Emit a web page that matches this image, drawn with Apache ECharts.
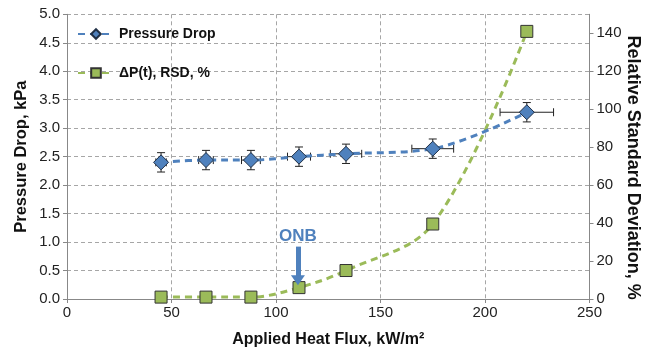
<!DOCTYPE html>
<html>
<head>
<meta charset="utf-8">
<script src="https://cdn.jsdelivr.net/npm/echarts@6/dist/echarts.min.js"></script>
<style>
html,body{margin:0;padding:0;background:#fff;}
#chart{width:655px;height:352px;}
</style>
</head>
<body>
<div id="chart"></div>
<script>
// Data
const heatFlux = [45, 66.5, 88, 111, 133.5, 175, 220];
const pressureDrop = [2.40, 2.44, 2.44, 2.50, 2.55, 2.64, 3.28];
const pressureErrY = [0.17, 0.17, 0.17, 0.17, 0.17, 0.17, 0.17];
const heatFluxErrX = [2.5, 3.5, 4.5, 5.5, 7.5, 10, 12.8];
const rsdValues = [1, 1, 1, 6, 15, 39.5, 141];
const leftTicks = [0, 0.5, 1, 1.5, 2, 2.5, 3, 3.5, 4, 4.5, 5];
const onbX = 110.5;
const onbArrow = [0.92, 0.33];

const blue = '#4F81BD';
const green = '#9BBB59';
const tickFont = {fontFamily: '"Liberation Sans Narrow", "Liberation Sans", Arial, sans-serif', fontSize: 15, color: '#222'};
const titleFont = {fontFamily: '"Liberation Sans", Arial, sans-serif', fontWeight: 'bold', color: '#111'};

const chart = echarts.init(document.getElementById('chart'), null, {renderer: 'canvas'});

const errData = heatFlux.map((x, i) => [x, pressureDrop[i], pressureErrY[i], heatFluxErrX[i]]);

const option = {
  backgroundColor: '#fff',
  animation: false,
  grid: {left: 67, right: 65.5, top: 14.3, bottom: 53, containLabel: false, outerBoundsMode: 'none'},
  legend: {
    left: 77, top: 27, orient: 'vertical', itemGap: 25, padding: 0,
    itemWidth: 36, itemHeight: 12,
    textStyle: {fontFamily: '"Liberation Sans", Arial, sans-serif', fontSize: 14, fontWeight: 'bold', color: '#111'},
    data: ['Pressure Drop', 'ΔP(t), RSD, %']
  },
  xAxis: {
    type: 'value', min: 0, max: 250, interval: 50,
    name: 'Applied Heat Flux, kW/m²', nameLocation: 'middle', nameGap: 33, nameMoveOverlap: false,
    nameTextStyle: Object.assign({fontSize: 16}, titleFont),
    axisLine: {show: true, lineStyle: {color: '#888'}},
    axisTick: {show: true, length: 4, lineStyle: {color: '#888'}},
    axisLabel: Object.assign({margin: 6}, tickFont),
    splitLine: {show: true, lineStyle: {color: '#a6a6a6', type: [4, 3]}}
  },
  yAxis: [{
    type: 'value', min: 0, max: 5, interval: 0.5,
    name: 'Pressure Drop, kPa', nameLocation: 'middle', nameGap: 37, nameMoveOverlap: false,
    nameTextStyle: Object.assign({fontSize: 16.5}, titleFont),
    axisLine: {show: true, lineStyle: {color: '#888'}},
    axisTick: {show: true, length: 4, lineStyle: {color: '#888'}},
    axisLabel: Object.assign({margin: 7, formatter: v => leftTicks.indexOf(v) >= 0 ? v.toFixed(1) : ''}, tickFont),
    splitLine: {show: true, lineStyle: {color: '#a6a6a6', type: [4, 3]}}
  }, {
    type: 'value', min: 0, max: 150, interval: 20, position: 'right',
    name: 'Relative Standard Deviation, %', nameLocation: 'middle', nameGap: 34, nameRotate: -90, nameMoveOverlap: false,
    nameTextStyle: Object.assign({fontSize: 18, padding: [0, 0, 0, 22]}, titleFont),
    axisLine: {show: true, lineStyle: {color: '#888'}},
    axisTick: {show: true, length: 4, lineStyle: {color: '#888'}},
    axisLabel: Object.assign({margin: 7, showMaxLabel: false, formatter: v => (v % 20 === 0 ? String(v) : '')}, tickFont),
    splitLine: {show: false}
  }],
  series: [{
    name: 'ΔP(t), RSD, %', type: 'line', yAxisIndex: 1,
    data: heatFlux.map((x, i) => [x, rsdValues[i]]),
    smooth: 0.35,
    symbol: 'rect', symbolSize: 12,
    lineStyle: {color: green, width: 3, type: [7, 5]},
    itemStyle: {color: green, borderColor: '#333', borderWidth: 1},
    z: 2
  }, {
    name: 'Pressure Drop', type: 'line', yAxisIndex: 0,
    data: heatFlux.map((x, i) => [x, pressureDrop[i]]),
    smooth: 0.35,
    symbol: 'diamond', symbolSize: 15,
    lineStyle: {color: blue, width: 3, type: [7, 5]},
    itemStyle: {color: blue, borderColor: '#1f2f45', borderWidth: 1},
    z: 4,
    markLine: {
      silent: true,
      symbol: ['none', 'triangle'],
      symbolSize: [14, 10],
      lineStyle: {color: blue, width: 5, type: 'solid'},
      label: {show: true, position: 'start', formatter: 'ONB', color: blue, fontFamily: '"Liberation Sans", Arial, sans-serif', fontSize: 17, fontWeight: 'bold', distance: 2},
      data: [[{coord: [onbX, onbArrow[0]]}, {coord: [onbX, onbArrow[1]]}]]
    }
  }, {
    type: 'custom', yAxisIndex: 0, z: 3,
    data: errData,
    renderItem: function (params, api) {
      const x = api.value(0), y = api.value(1), ey = api.value(2), ex = api.value(3);
      const top = api.coord([x, y + ey]);
      const bot = api.coord([x, y - ey]);
      const lft = api.coord([x - ex, y]);
      const rgt = api.coord([x + ex, y]);
      const cap = 4;
      const st = {stroke: '#222', lineWidth: 1};
      return {
        type: 'group',
        children: [
          {type: 'line', shape: {x1: top[0], y1: top[1], x2: bot[0], y2: bot[1]}, style: st},
          {type: 'line', shape: {x1: top[0] - cap, y1: top[1], x2: top[0] + cap, y2: top[1]}, style: st},
          {type: 'line', shape: {x1: bot[0] - cap, y1: bot[1], x2: bot[0] + cap, y2: bot[1]}, style: st},
          {type: 'line', shape: {x1: lft[0], y1: lft[1], x2: rgt[0], y2: rgt[1]}, style: st},
          {type: 'line', shape: {x1: lft[0], y1: lft[1] - cap, x2: lft[0], y2: lft[1] + cap}, style: st},
          {type: 'line', shape: {x1: rgt[0], y1: rgt[1] - cap, x2: rgt[0], y2: rgt[1] + cap}, style: st}
        ]
      };
    }
  }]
};
chart.setOption(option);
</script>
</body>
</html>
